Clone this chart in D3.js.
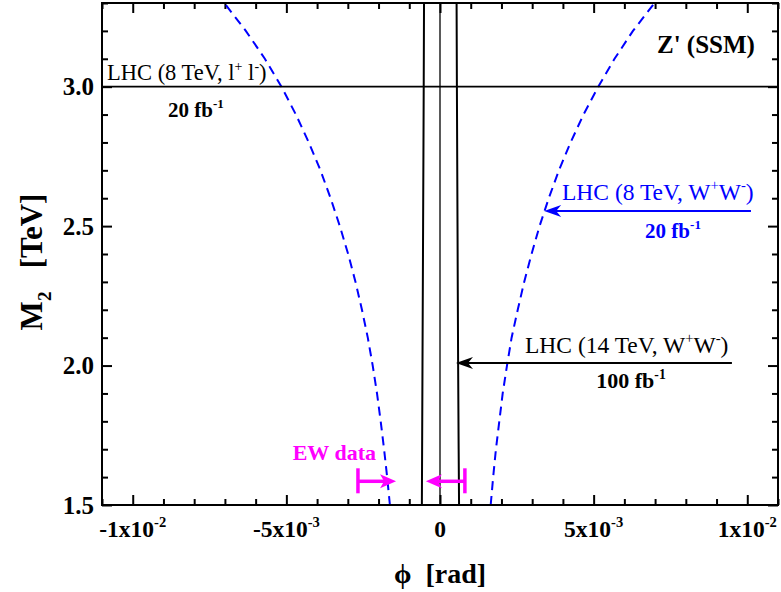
<!DOCTYPE html>
<html lang="en">
<head>
<meta charset="utf-8">
<title>Z' (SSM) mixing angle limits</title>
<script src="https://cdn.jsdelivr.net/npm/d3@7"></script>
<style>
  body { margin: 0; background: #fff; }
  svg text { font-family: "Liberation Serif", "Times New Roman", serif; white-space: pre; }
  .bold { font-weight: bold; }
</style>
</head>
<body>
<script>
// tick values and labels
var phiMajor = [-0.01, -0.005, 0, 0.005, 0.01];
var phiLabels = [["-1x10", "-2"], ["-5x10", "-3"], ["0", ""], ["5x10", "-3"], ["1x10", "-2"]];
var massMajor = [1.5, 2.0, 2.5, 3.0];

// LHC 8 TeV WW (20 fb-1), blue dashed
var ww8Mass  = [1.5, 1.6, 1.7, 1.8, 1.9, 2.0, 2.1, 2.2, 2.3, 2.4, 2.5, 2.6, 2.7, 2.8, 2.9, 3.0, 3.1, 3.2, 3.3];
var ww8Right = [1.65e-3, 1.73e-3, 1.82e-3, 1.93e-3, 2.04e-3, 2.18e-3, 2.33e-3, 2.53e-3, 2.74e-3, 2.98e-3,
                3.24e-3, 3.54e-3, 3.87e-3, 4.25e-3, 4.67e-3, 5.15e-3, 5.68e-3, 6.28e-3, 6.98e-3];
var ww8Left  = [-1.63e-3, -1.72e-3, -1.82e-3, -1.93e-3, -2.05e-3, -2.19e-3, -2.35e-3, -2.54e-3, -2.75e-3, -2.99e-3,
                -3.26e-3, -3.56e-3, -3.89e-3, -4.27e-3, -4.69e-3, -5.16e-3, -5.70e-3, -6.32e-3, -7.02e-3];

// LHC 14 TeV WW (100 fb-1), black solid
var ww14Mass  = [1.5, 2.0, 2.5, 3.0, 3.3];
var ww14Left  = [-0.59e-3, -0.57e-3, -0.55e-3, -0.53e-3, -0.52e-3];
var ww14Right = [0.62e-3, 0.59e-3, 0.57e-3, 0.55e-3, 0.54e-3];

// LHC 8 TeV dilepton limit
var llMass = 3.0;

// EW data allowed range
var ewBounds = [-2.67e-3, 0.81e-3];
var ewTips = [-1.43e-3, -0.46e-3];
var ewMass = 1.585;

var W = 781, H = 592;
var mLeft = 102, mRight = 778, mTop = 3, mBottom = 505;

var svg = d3.select("body").append("svg")
    .attr("width", W).attr("height", H);

var x = d3.scaleLinear().domain([-0.011, 0.011]).range([mLeft, mRight]);
var y = d3.scaleLinear().domain([1.5, 3.3]).range([mBottom, mTop]);

function richText(g, px, py, parts, size, anchor, cls, fill) {
  var t = g.append("text")
      .attr("x", px).attr("y", py)
      .attr("font-size", size)
      .attr("text-anchor", anchor || "start")
      .attr("fill", fill || "#000");
  if (cls) t.attr("class", cls);
  var shift = 0;
  parts.forEach(function (p) {
    var kind = p[1] || "";
    var target = kind === "sup" ? -0.42 * size : (kind === "sub" ? 0.28 * size : 0);
    var s = t.append("tspan").text(p[0]).attr("dy", target - shift);
    if (kind) s.attr("font-size", size * 0.62);
    shift = target;
  });
  return t;
}

// minor tick values
var phiMinor = d3.range(-11, 12).map(function (d) { return d * 1e-3; })
    .filter(function (v) { return phiMajor.every(function (m) { return Math.abs(m - v) > 1e-9; }); });
var massMinor = d3.range(15, 34).map(function (d) { return d / 10; })
    .filter(function (v) { return massMajor.every(function (m) { return Math.abs(m - v) > 1e-9; }); });

function drawAxis(axis, tr) {
  var g = svg.append("g").attr("transform", tr).call(axis);
  g.select(".domain").remove();
  g.selectAll(".tick line").attr("stroke", "#000").attr("stroke-width", 2);
  g.selectAll(".tick text").remove();
  return g;
}

// ticks on all four sides, pointing inward
drawAxis(d3.axisBottom(x).tickValues(phiMajor).tickSize(-10), "translate(0," + mBottom + ")");
drawAxis(d3.axisBottom(x).tickValues(phiMinor).tickSize(-6), "translate(0," + mBottom + ")");
drawAxis(d3.axisTop(x).tickValues(phiMajor).tickSize(-10), "translate(0," + mTop + ")");
drawAxis(d3.axisTop(x).tickValues(phiMinor).tickSize(-6), "translate(0," + mTop + ")");
drawAxis(d3.axisLeft(y).tickValues(massMajor).tickSize(-10), "translate(" + mLeft + ",0)");
drawAxis(d3.axisLeft(y).tickValues(massMinor).tickSize(-6), "translate(" + mLeft + ",0)");
drawAxis(d3.axisRight(y).tickValues(massMajor).tickSize(-10), "translate(" + mRight + ",0)");
drawAxis(d3.axisRight(y).tickValues(massMinor).tickSize(-6), "translate(" + mRight + ",0)");

// tick labels
phiMajor.forEach(function (v, i) {
  richText(svg, x(v), 537, [[phiLabels[i][0]], [phiLabels[i][1], "sup"]], 23.5, "middle", "bold");
});
massMajor.forEach(function (v) {
  svg.append("text").attr("class", "bold")
      .attr("x", 94).attr("y", y(v) + 8.5)
      .attr("text-anchor", "end").attr("font-size", 25)
      .text(d3.format(".1f")(v));
});

// axis titles
richText(svg, x(0), 583, [["\u03d5  [rad]"]], 28, "middle", "bold");
var yt = svg.append("g").attr("transform", "translate(42," + ((mTop + mBottom) / 2 + 8) + ") rotate(-90)");
richText(yt, 0, 0, [["M"], ["2", "sub"], ["   [TeV]"]], 31, "middle", "bold");

var plot = svg.append("g");

// blue dashed curves
var line = d3.line()
    .x(function (d) { return x(d[0]); })
    .y(function (d) { return y(d[1]); });
[ww8Left, ww8Right].forEach(function (arr) {
  plot.append("path")
      .datum(arr.map(function (v, i) { return [v, ww8Mass[i]]; }))
      .attr("d", line)
      .attr("fill", "none").attr("stroke", "#0000ff")
      .attr("stroke-width", 2).attr("stroke-dasharray", "9,6");
});

// black solid curves and centre line
[ww14Left, ww14Right].forEach(function (arr) {
  plot.append("path")
      .datum(arr.map(function (v, i) { return [v, ww14Mass[i]]; }))
      .attr("d", d3.line().curve(d3.curveMonotoneY).x(function (d) { return x(d[0]); }).y(function (d) { return y(d[1]); }))
      .attr("fill", "none").attr("stroke", "#000").attr("stroke-width", 2);
});
plot.append("line")
    .attr("x1", x(0)).attr("x2", x(0)).attr("y1", y(1.5)).attr("y2", y(3.3))
    .attr("stroke", "#000").attr("stroke-width", 1.3);

// dilepton horizontal line
plot.append("line")
    .attr("x1", mLeft).attr("x2", mRight).attr("y1", y(llMass)).attr("y2", y(llMass))
    .attr("stroke", "#000").attr("stroke-width", 1.6);

// arrows
function notchedArrow(x1, x2, yy, color) {
  var dir = x2 < x1 ? 1 : -1; // head points toward x2
  plot.append("line")
      .attr("x1", x1).attr("x2", x2 + dir * 8).attr("y1", yy).attr("y2", yy)
      .attr("stroke", color).attr("stroke-width", 2);
  plot.append("path")
      .attr("d", "M" + x2 + "," + yy +
                 "L" + (x2 + dir * 17) + "," + (yy - 6) +
                 "L" + (x2 + dir * 12) + "," + yy +
                 "L" + (x2 + dir * 17) + "," + (yy + 6) + "Z")
      .attr("fill", color);
}
notchedArrow(x(10.12e-3), x(3.39e-3), y(2.554), "#0000ff");
notchedArrow(x(9.5e-3), x(0.52e-3), y(2.009), "#000");

// EW data bars
var ewY = y(ewMass);
[0, 1].forEach(function (i) {
  var bx = x(ewBounds[i]), tx = x(ewTips[i]);
  var dir = tx > bx ? 1 : -1;
  plot.append("line").attr("x1", bx).attr("x2", bx).attr("y1", ewY - 13).attr("y2", ewY + 12)
      .attr("stroke", "#ff00ff").attr("stroke-width", 3.5);
  plot.append("line").attr("x1", bx).attr("x2", tx - dir * 10).attr("y1", ewY).attr("y2", ewY)
      .attr("stroke", "#ff00ff").attr("stroke-width", 3.5);
  plot.append("path")
      .attr("d", "M" + tx + "," + ewY + "L" + (tx - dir * 16) + "," + (ewY - 7) +
                 "L" + (tx - dir * 12) + "," + ewY + "L" + (tx - dir * 16) + "," + (ewY + 7) + "Z")
      .attr("fill", "#ff00ff");
});

// annotations
richText(svg, 107, 80, [["LHC (8 TeV, l"], ["+", "sup"], [" l"], ["-", "sup"], [")"]], 22.5, "start");
richText(svg, 168, 117, [["20 fb"], ["-1", "sup"]], 21, "start", "bold");
richText(svg, 657, 53, [["Z' (SSM)"]], 25, "start", "bold");
richText(svg, 562, 200, [["LHC (8 TeV, W"], ["+", "sup"], ["W"], ["-", "sup"], [")"]], 23.5, "start", null, "#0000ff");
richText(svg, 673, 238, [["20 fb"], ["-1", "sup"]], 21, "middle", "bold", "#0000ff");
richText(svg, 525, 353, [["LHC (14 TeV, W"], ["+", "sup"], ["W"], ["-", "sup"], [")"]], 23.5, "start");
richText(svg, 631, 388, [["100 fb"], ["-1", "sup"]], 22, "middle", "bold");
richText(svg, 376, 460, [["EW data"]], 22, "end", "bold", "#ff00ff");

// frame
svg.append("rect")
    .attr("x", mLeft).attr("y", mTop).attr("width", mRight - mLeft).attr("height", mBottom - mTop)
    .attr("fill", "none").attr("stroke", "#000").attr("stroke-width", 2);
</script>
</body>
</html>
